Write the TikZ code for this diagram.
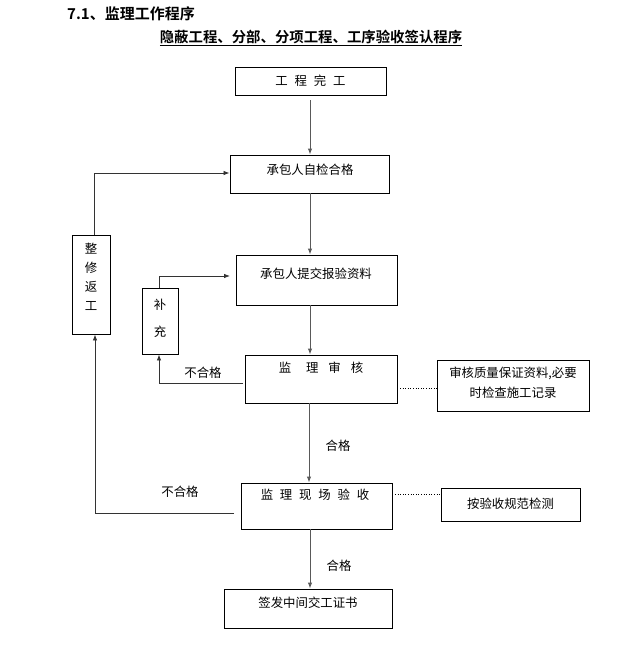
\documentclass[tikz,border=0pt]{standalone}
\usepackage{fontspec}
\setmainfont{Noto Sans CJK SC}
\newfontfamily\cjkb{Noto Sans CJK SC Bold}
\usetikzlibrary{arrows.meta,calc}
\begin{document}
\begin{tikzpicture}[x=1pt,y=-1pt,
  box/.style={draw,line width=0.9pt,inner sep=0pt},
  txt/.style={inner sep=0pt,font=\fontsize{12.4}{14}\selectfont},
  flow/.style={draw=black!65,line width=1pt,-{Latex[length=6pt,width=4.5pt]}},
  back/.style={draw=black!80,line width=0.8pt},
  backarr/.style={back,-{Latex[length=6pt,width=4.5pt]}},
  note/.style={draw,line width=0.6pt,dotted}]
\useasboundingbox (0,0) rectangle (626,658);
% titles
\node[anchor=west,inner sep=0pt,font=\cjkb\fontsize{15}{17}\selectfont] (title) at (67,14) {7.1、监理工作程序};
\node[inner sep=0pt,font=\cjkb\fontsize{14.4}{17}\selectfont] (sub) at (311,38) {\underline{隐蔽工程、分部、分项工程、工序验收签认程序}};
% boxes
\node[box,minimum width=151,minimum height=28] (b0) at (310.5,81) {};
\node[txt] (t0) at (310.5,81) {工\hspace{0.55em}程\hspace{0.55em}完\hspace{0.55em}工};
\node[box,minimum width=159,minimum height=38] (b1) at (309.5,174) {};
\node[txt] (t1) at (310,170) {承包人自检合格};
\node[box,minimum width=161,minimum height=50] (b2) at (316.5,280) {};
\node[txt] (t2) at (316,274) {承包人提交报验资料};
\node[box,minimum width=38,minimum height=99] (b3) at (91,284.5) {};
\node[txt,align=center,font=\fontsize{12.4}{19}\selectfont] (t3) at (91,277) {整\\修\\返\\工};
\node[box,minimum width=36,minimum height=66] (b4) at (160,321) {};
\node[txt,align=center,font=\fontsize{12.4}{27}\selectfont] (t4) at (160,318) {补\\充};
\node[box,minimum width=152,minimum height=48] (b5) at (321,379) {};
\node[txt] (t5) at (321,368) {监\hspace{1.2em}理\hspace{0.8em}审\hspace{0.8em}核};
\node[box,minimum width=152,minimum height=51] (b6) at (513,385.5) {};
\node[txt,align=center,font=\fontsize{12.4}{20}\selectfont] (t6) at (513,383) {审核质量保证资料,必要\\时检查施工记录};
\node[box,minimum width=151,minimum height=46] (b7) at (316.5,506) {};
\node[txt] (t7) at (315,495) {监\hspace{0.55em}理\hspace{0.55em}现\hspace{0.55em}场\hspace{0.55em}验\hspace{0.55em}收};
\node[box,minimum width=139,minimum height=33] (b8) at (510.5,504.5) {};
\node[txt] (t8) at (510.5,504) {按验收规范检测};
\node[box,minimum width=168,minimum height=39] (b9) at (308,608.5) {};
\node[txt] (t9) at (308,603) {签发中间交工证书};
% labels
\node[txt] (l1) at (338,446) {合格};
\node[txt] (l2) at (339,566) {合格};
\node[txt] (l3) at (203,373) {不合格};
\node[txt] (l4) at (180,492) {不合格};
% coordinates
\coordinate (m) at (310,0);
\coordinate (a4) at (230,276);
\coordinate (c5) at (243,383);
\coordinate (c7) at (234,513);
% main flow
\draw[flow] ($(b0.south -| m)+(0,5)$) -- (b1.north -| m);
\draw[flow] (b1.south -| m) -- (b2.north -| m);
\draw[flow] (b2.south -| m) -- (b5.north -| m);
\draw[flow] ($(b5.south -| m)+(-1,0)$) -- ($(b7.north -| m)+(-1,0)$);
\draw[flow] (b7.south -| m) -- (b9.north -| m);
% feedback
\draw[backarr] ($(b3.north)+(3,0)$) |- ($(b1.west)+(0,-1)$);
\draw[backarr] ($(b4.north)+(-1,0)$) |- (a4);
\draw[backarr] (c5) -| ($(b4.south)+(-1,0)$);
\draw[backarr] (c7) -| ($(b3.south)+(4,0)$);
% notes
\draw[note] ($(b5.east)+(0,9)$) -- ($(b5.east -| b6.west)+(0,9)$);
\draw[note] ($(b7.east)+(0,-12)$) -- ($(b7.east -| b8.west)+(0,-12)$);
\end{tikzpicture}
\end{document}
